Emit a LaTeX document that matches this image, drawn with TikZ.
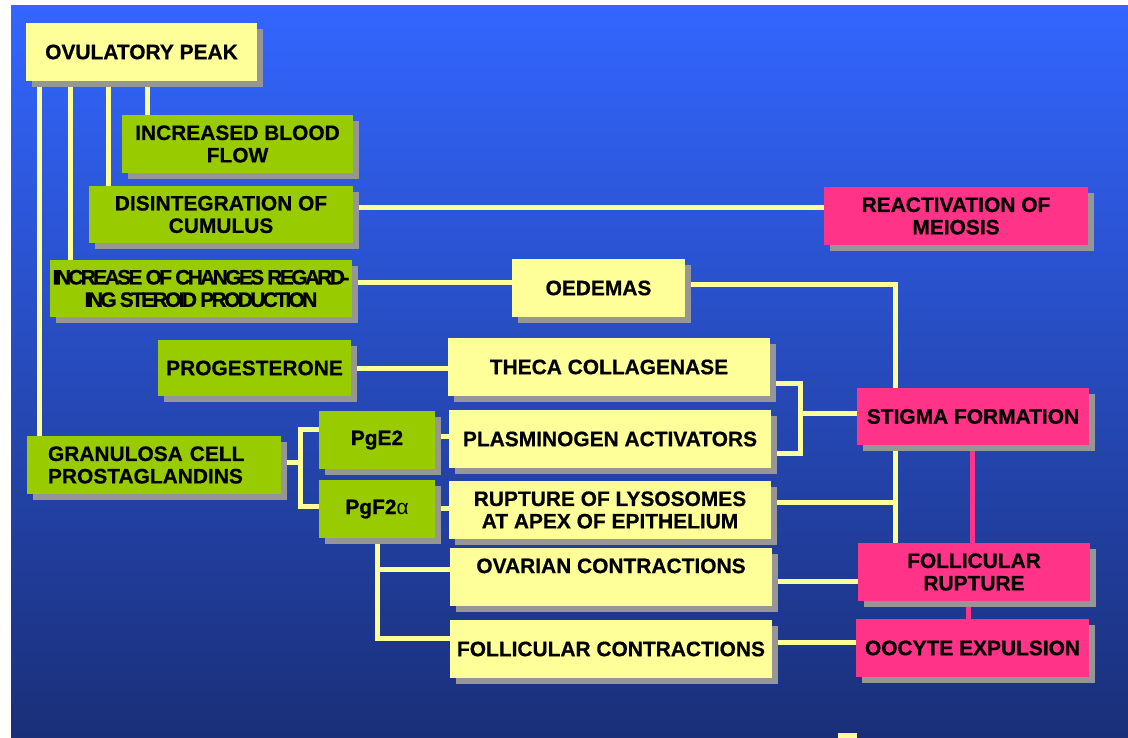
\documentclass[tikz,border=0pt]{standalone}
\usepackage{fontspec}
\setmainfont[BoldFeatures={FakeBold=0.6}]{Liberation Sans}
\newfontfamily\narrowfont[LetterSpace=-12.5,BoldFeatures={FakeBold=0.6}]{Liberation Sans}
\usetikzlibrary{shadows,backgrounds}
\definecolor{bgtop}{HTML}{3366FF}
\definecolor{bgbot}{HTML}{1A2F78}
\definecolor{paleyellow}{HTML}{FFFF99}
\definecolor{leafgreen}{HTML}{99CC00}
\definecolor{hotpink}{HTML}{FF3388}
\definecolor{shadowgray}{HTML}{969696}

\begin{document}
\begin{tikzpicture}[x=1bp,y=-1bp,
    every node/.style={font=\fontsize{21}{22.5}\selectfont\bfseries,align=center,inner sep=0pt},
    box/.style 2 args={minimum width=#1bp,minimum height=#2bp,
      general shadow={fill=shadowgray,shadow xshift=6bp,shadow yshift=-6bp}},
    ybox/.style={fill=paleyellow},
    gbox/.style={fill=leafgreen},
    pbox/.style={fill=hotpink},
    link/.style={paleyellow,line width=5bp},
    plink/.style={hotpink,line width=5bp}]
    \useasboundingbox (0,0) rectangle (1128,738);
    \begin{scope}[on background layer]
      \fill[white] (0,0) rectangle (1128,738);
      \shade[top color=bgtop,bottom color=bgbot] (11,6) rectangle (1128,738);
      \fill[paleyellow] (838,733) rectangle (857,738);
    \end{scope}
    \node[ybox,box={231}{58}] (peak) at (141.5,52) {OVULATORY PEAK};
    \node[gbox,box={231}{58}] (blood) at (237.5,144) {INCREASED BLOOD\\FLOW};
    \node[gbox,box={264}{57}] (cumulus) at (221,214.5) {DISINTEGRATION OF\\CUMULUS};
    \node[gbox,box={302}{57},font={\narrowfont\fontsize{21}{22.5}\selectfont\bfseries}] (steroid) at (201,288.5) {INCREASE OF CHANGES REGARD-\\ING STEROID PRODUCTION};
    \node[gbox,box={193}{56}] (progest) at (254.5,368) {PROGESTERONE};
    \node[gbox,box={254}{58},align=left,text width=212bp] (granul) at (154,465) {GRANULOSA CELL\\PROSTAGLANDINS};
    \node[gbox,box={116}{58}] (pge) at (377,440) {PgE2};
    \node[gbox,box={116}{58}] (pgf) at (377,509) {PgF2{\mdseries α}};
    \node[ybox,box={173}{58}] (oedemas) at (598.5,288) {OEDEMAS};
    \node[ybox,box={322}{58}] (theca) at (609,367) {THECA COLLAGENASE};
    \node[ybox,box={322}{58}] (plasmin) at (610,439) {PLASMINOGEN ACTIVATORS};
    \node[ybox,box={322}{58}] (lysos) at (610,510) {RUPTURE OF LYSOSOMES\\AT APEX OF EPITHELIUM};
    \node[ybox,box={322}{58}] (ovarian) at (611,577) {OVARIAN CONTRACTIONS\\\mbox{}};
    \node[ybox,box={322}{58}] (follcon) at (611,649) {FOLLICULAR CONTRACTIONS};
    \node[pbox,box={264}{58}] (meiosis) at (956,216) {REACTIVATION OF\\MEIOSIS};
    \node[pbox,box={232}{57}] (stigma) at (973,416.5) {STIGMA FORMATION};
    \node[pbox,box={232}{58}] (rupture) at (974,572) {FOLLICULAR\\RUPTURE};
    \node[pbox,box={233}{58}] (oocyte) at (972.5,648) {OOCYTE EXPULSION};
    \coordinate (oj) at (895,284);
    \coordinate (tj) at (800,383);
    \coordinate (sj) at (800,413);
    \coordinate (pj) at (800,453);
    \coordinate (gj) at (300,462);
    \coordinate (ej) at (300,429);
    \coordinate (fj) at (300,506);
    \coordinate (lj) at (895,502);
    \coordinate (vj) at (377,569);
    \coordinate (cj) at (377,638);
    \begin{scope}[on background layer]
      \draw[link] (39,0 |- peak.south) -- (39,0 |- granul.north);
      \draw[link] (70,0 |- peak.south) -- (70,0 |- steroid.north);
      \draw[link] (108,0 |- peak.south) -- (108,0 |- cumulus.north);
      \draw[link] (147,0 |- peak.south) -- (147,0 |- blood.north);
      \draw[link] (cumulus.east |- 0,207) -- (meiosis.west |- 0,207);
      \draw[link] (steroid.east |- 0,282) -- (oedemas.west |- 0,282);
      \draw[link] (oedemas.east |- oj) -- (oj) -- (oj |- stigma.north);
      \draw[link] (progest.east) -- (theca.west |- progest.east);
      \draw[link] (theca.east |- tj) -- (tj) -- (pj) -- (plasmin.east |- pj);
      \draw[link] (sj) -- (stigma.west |- sj);
      \draw[link] (granul.east |- gj) -- (gj);
      \draw[link] (pge.west |- ej) -- (ej) -- (fj) -- (pgf.west |- fj);
      \draw[link] (pge.east |- 0,436) -- (plasmin.west |- 0,436);
      \draw[link] (pgf.east |- 0,508) -- (lysos.west |- 0,508);
      \draw[link] (lysos.east |- lj) -- (lj);
      \draw[link] (lj |- stigma.south) -- (lj |- rupture.north);
      \draw[link] (pgf.south) -- (cj) -- (follcon.west |- cj);
      \draw[link] (vj) -- (ovarian.west |- vj);
      \draw[link] (ovarian.east |- 0,581) -- (rupture.west |- 0,581);
      \draw[link] (follcon.east |- 0,642) -- (oocyte.west |- 0,642);
      \draw[plink] (972,0 |- stigma.south) -- (972,0 |- rupture.north);
      \draw[plink] (968,0 |- rupture.south) -- (968,0 |- oocyte.north);
    \end{scope}
\end{tikzpicture}
\end{document}
